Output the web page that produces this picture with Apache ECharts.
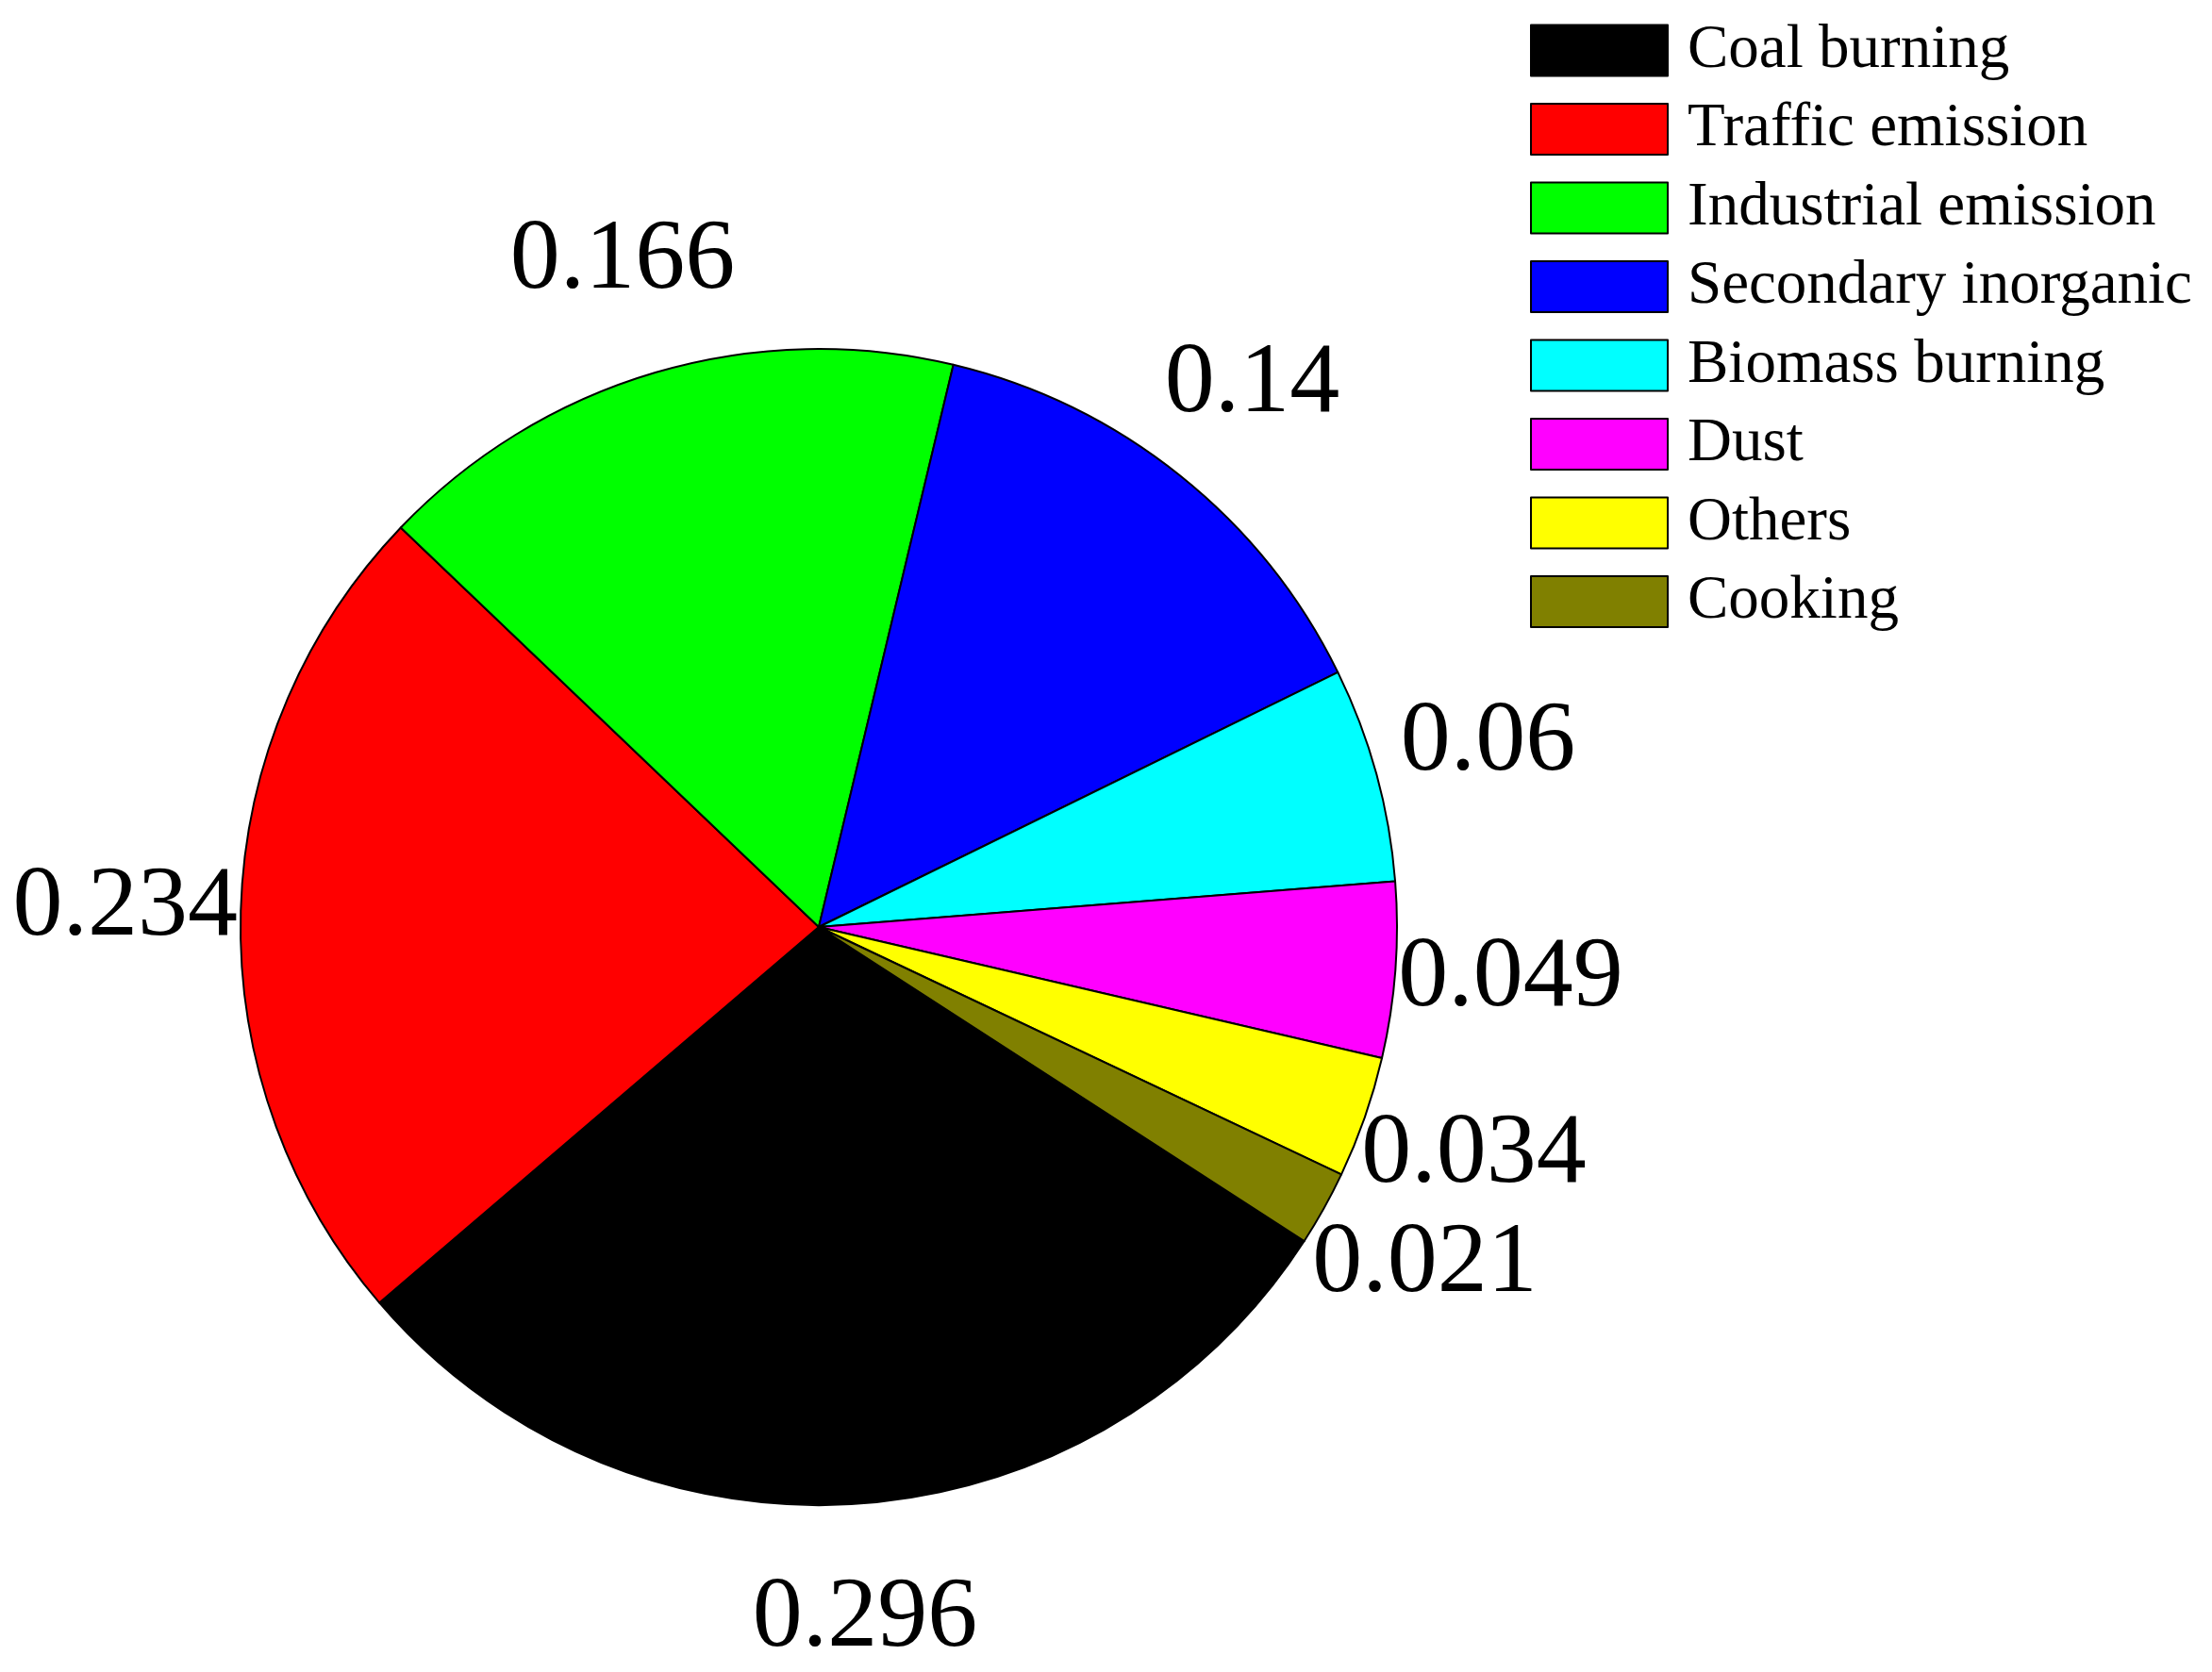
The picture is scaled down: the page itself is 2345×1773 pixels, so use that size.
<!DOCTYPE html>
<html>
<head>
<meta charset="utf-8">
<script src="https://cdn.jsdelivr.net/npm/echarts@6/dist/echarts.min.js"></script>
<style>
html,body{margin:0;padding:0;background:#fff;}
#main{width:2345px;height:1773px;}
</style>
</head>
<body>
<div id="main"></div>
<script>
// source names, contributions and fill colours
var sources = ['Coal burning', 'Traffic emission', 'Industrial emission', 'Secondary inorganic',
	'Biomass burning', 'Dust', 'Others', 'Cooking'];
var shares = [0.296, 0.234, 0.166, 0.14, 0.06, 0.049, 0.034, 0.021];
var colors = ['#000000', '#ff0000', '#00ff00', '#0000ff', '#00ffff', '#ff00ff', '#ffff00', '#808000'];

var chart = echarts.init(document.getElementById('main'));

var pieData = [];
var labelData = [];
for (var i = 0; i < sources.length; i++) {
	pieData.push({name: sources[i], value: shares[i], itemStyle: {color: colors[i]}});
	labelData.push({name: sources[i], value: shares[i]});
}

var cx = 868, cy = 983, r = 613;

var option = {
	backgroundColor: '#ffffff',
	animation: false,
	legend: {
		orient: 'vertical',
		left: 1617,
		top: 16,
		data: sources,
		icon: 'rect',
		itemWidth: 145,
		itemHeight: 54,
		itemGap: 18.5,
		itemStyle: {borderColor: '#000', borderWidth: 2},
		textStyle: {
			fontFamily: 'Liberation Serif',
			fontSize: 65,
			color: '#000',
			padding: [0, 0, 0, 16]
		}
	},
	series: [
		{
			// the pie itself
			type: 'pie',
			center: [cx, cy],
			radius: r,
			startAngle: -32.9,
			clockwise: true,
			silent: true,
			itemStyle: {borderColor: '#000', borderWidth: 2},
			label: {show: false},
			labelLine: {show: false},
			data: pieData
		},
		{
			// invisible ring, only to put value labels at 1.2r
			type: 'pie',
			center: [cx, cy],
			radius: [r * 1.2 - 36, r * 1.2 + 30],
			startAngle: -32.9,
			clockwise: true,
			silent: true,
			itemStyle: {color: 'rgba(0,0,0,0)', borderWidth: 0},
			label: {
				show: true,
				position: 'inside',
				formatter: '{c}',
				fontFamily: 'Liberation Serif',
				fontSize: 106,
				color: '#000'
			},
			labelLine: {show: false},
			data: labelData
		}
	]
};
chart.setOption(option);
</script>
</body>
</html>
